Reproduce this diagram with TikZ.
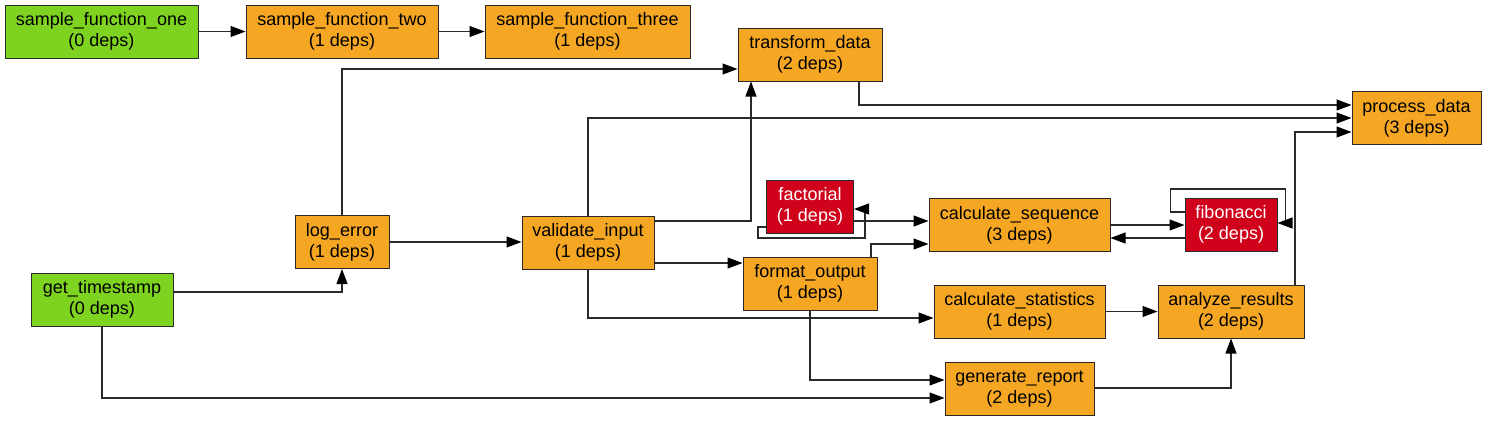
\documentclass[tikz,border=0pt]{standalone}
\usepackage{fontspec}
\setmainfont{Liberation Sans}
\usetikzlibrary{arrows.meta,calc}
\definecolor{ngreen}{HTML}{7ED321}
\definecolor{norange}{HTML}{F5A623}
\definecolor{nred}{HTML}{D0021B}
\definecolor{nline}{HTML}{2A2A2A}
\tikzset{
  fbox/.style={draw=nline, line width=1pt, inner sep=0pt, align=center,
    font=\fontsize{18}{21}\selectfont, minimum height=53},
  gbox/.style={fbox, fill=ngreen},
  obox/.style={fbox, fill=norange},
  rbox/.style={fbox, fill=nred, text=white},
  edge/.style={draw=nline, line width=1.1pt, -{Triangle[length=15pt,width=11pt,color=black]}},
}
\begin{document}
\begin{tikzpicture}[x=1pt,y=-1pt]
\useasboundingbox[fill=white] (0,0) rectangle (1487,421);
% nodes
\node[gbox, minimum width=193] (sfo) at (101.5,31.5) {sample\_function\_one\\(0 deps)};
\node[obox, minimum width=192] (sft) at (342,31.5) {sample\_function\_two\\(1 deps)};
\node[obox, minimum width=205] (sfh) at (587.5,31.5) {sample\_function\_three\\(1 deps)};
\node[obox, minimum width=144] (td) at (810,54.5) {transform\_data\\(2 deps)};
\node[obox, minimum width=129] (pd) at (1416.5,118) {process\_data\\(3 deps)};
\node[rbox, minimum width=87] (fa) at (810,206.5) {factorial\\(1 deps)};
\node[obox, minimum width=181] (cseq) at (1019.5,225) {calculate\_sequence\\(3 deps)};
\node[rbox, minimum width=92] (fib) at (1231,224.5) {fibonacci\\(2 deps)};
\node[obox, minimum width=94] (le) at (342,242) {log\_error\\(1 deps)};
\node[obox, minimum width=132] (vi) at (588,242.5) {validate\_input\\(1 deps)};
\node[gbox, minimum width=142] (gt) at (102,299.5) {get\_timestamp\\(0 deps)};
\node[obox, minimum width=134] (fo) at (810,283.5) {format\_output\\(1 deps)};
\node[obox, minimum width=171] (cst) at (1019.5,311.5) {calculate\_statistics\\(1 deps)};
\node[obox, minimum width=146] (ar) at (1231,311.5) {analyze\_results\\(2 deps)};
\node[obox, minimum width=149] (gr) at (1019.5,389) {generate\_report\\(2 deps)};
% edges
\draw[edge] (sfo) -- (sft);
\draw[edge] (sft) -- (sfh);
\draw[edge] (gt.east |- 0,292) -| (le.south);
\draw[edge] (gt.south) |- (gr.west |- 0,398);
\draw[edge] (le.east) -- (vi.west |- le.east);
\draw[edge] (le.north) |- (td.west |- 0,69);
\draw[edge] (vi.east |- 0,221) -| (td.south -| 751,0);
\draw[edge] (vi.north) |- (pd.west |- 0,118);
\draw[edge] (vi.east |- 0,263) -- (fo.west |- 0,263);
\draw[edge] (vi.south) |- (cst.west |- 0,318);
\draw[edge] (td.south -| 859,0) |- (pd.west |- 0,105);
\draw[edge] (ar.north -| 1295,0) |- (pd.west |- 0,132);
\draw[edge] (fa.west |- 0,227) -- ++(-8,0) -- ++(0,11) -- ++(107,0) -- ++(0,-29) -- (fa.east |- 0,209);
\draw[edge] (fa.east |- 0,221) -- (cseq.west |- 0,221);
\draw[edge] (fo.north -| 871,0) |- (cseq.west |- 0,244);
\draw[edge] (cseq.east |- 0,225) -- (fib.west |- 0,225);
\draw[edge] (fib.west |- 0,238) -- (cseq.east |- 0,238);
\draw[edge] (fib.west |- 0,212) -- ++(-14,0) -- ++(0,-23) -- ++(115,0) -- ++(0,34) -- (fib.east |- 0,223);
\draw[edge] (fo.south) |- (gr.west |- 0,380);
\draw[edge] (cst.east) -- (ar.west);
\draw[edge] (gr.east |- 0,388) -| (ar.south);
\end{tikzpicture}
\end{document}
